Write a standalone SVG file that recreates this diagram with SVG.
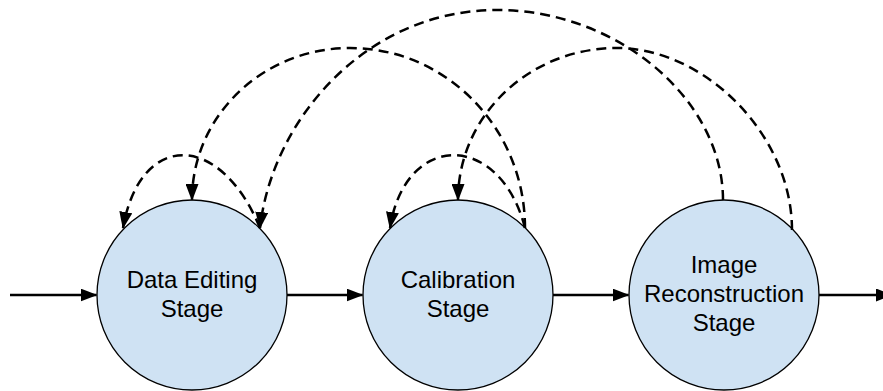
<svg xmlns="http://www.w3.org/2000/svg" width="883" height="391" viewBox="0 0 883 391">
  <defs>
    <marker id="ah" viewBox="0 0 17 13" markerWidth="17" markerHeight="13" refX="16" refY="6.5" orient="auto" markerUnits="userSpaceOnUse">
      <path d="M0,0 L17,6.5 L0,13 z" fill="#000"/>
    </marker>
    <style>
      .node circle { fill: #cfe2f3; stroke: #000; stroke-width: 1.3; }
      .node text { font-family: "Liberation Sans", Arial, sans-serif; font-size: 24px; fill: #000; text-anchor: middle; }
      .solid { fill: none; stroke: #000; stroke-width: 2.5; marker-end: url(#ah); }
      .dash { fill: none; stroke: #000; stroke-width: 2.5; stroke-dasharray: 10 6; }
      .dash.arrow { marker-end: url(#ah); }
    </style>
  </defs>
  <rect width="883" height="391" fill="#fff"/>

  <g id="node-data-editing" class="node">
    <circle cx="192" cy="295" r="95"/>
    <text x="192" y="288">Data Editing</text>
    <text x="192" y="317">Stage</text>
  </g>
  <g id="node-calibration" class="node">
    <circle cx="458" cy="295" r="95"/>
    <text x="458" y="288">Calibration</text>
    <text x="458" y="317">Stage</text>
  </g>
  <g id="node-image-reconstruction" class="node">
    <circle cx="724" cy="295" r="95"/>
    <text x="724" y="273">Image</text>
    <text x="724" y="302">Reconstruction</text>
    <text x="724" y="331">Stage</text>
  </g>

  <g id="connectors">
    <path class="solid" d="M10,295 L96.5,295"/>
    <path class="solid" d="M287,295 L362.5,295"/>
    <path class="solid" d="M553,295 L628.5,295"/>
    <path class="solid" d="M819,295 L892,295"/>

    <path class="dash arrow" d="M260,228 C220,131 140,131 123,228"/>
    <path class="dash arrow" d="M525,228 C500,131 405,131 390,228"/>
    <path class="dash arrow" d="M525,228 C525,128.6 446.6,48 350,48 C262.8,48 192,116 192,200"/>
    <path class="dash arrow" d="M723,200 C723,100 618,10 497,10 C366,10 272,120 260,228"/>
    <path class="dash arrow" d="M792,230 C792,135 705,48 617,48 C529,48 458,116 458,200"/>
  </g>
</svg>
